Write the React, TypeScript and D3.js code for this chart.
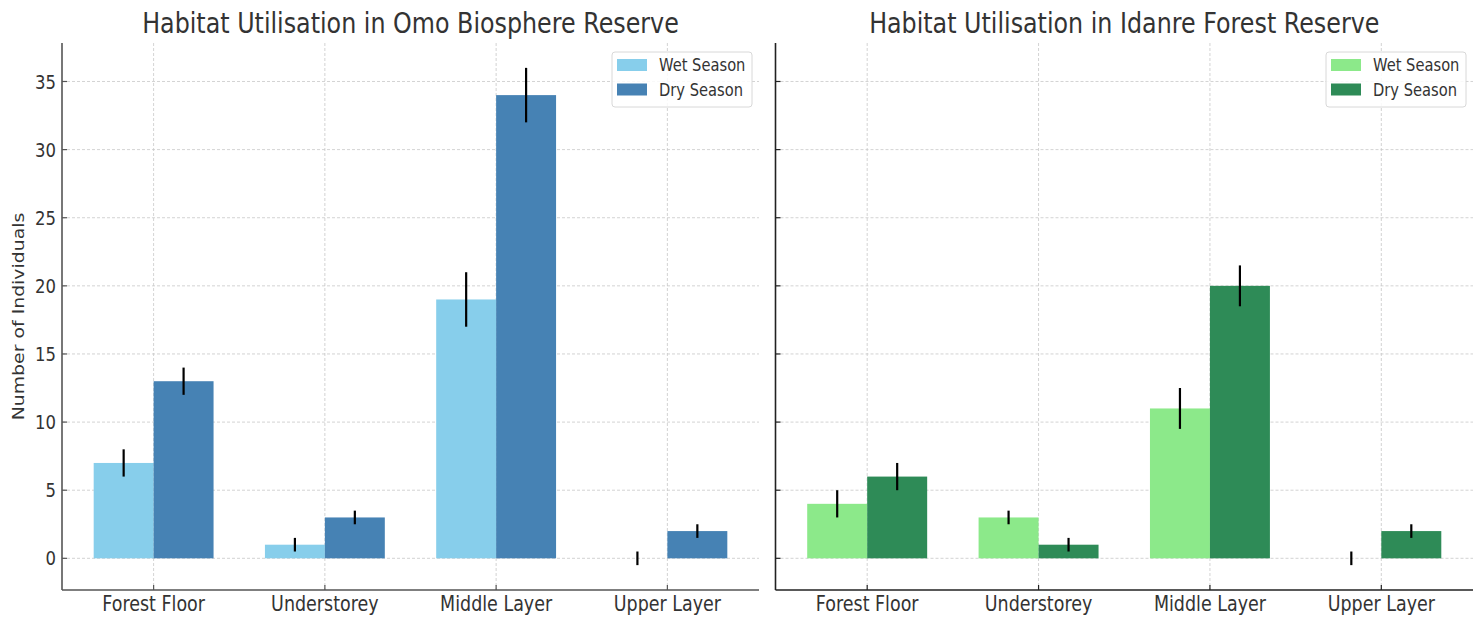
import * as d3 from 'd3';
import React from 'react';

const categories = ['Forest Floor', 'Understorey', 'Middle Layer', 'Upper Layer'];
const yTicks = [0, 5, 10, 15, 20, 25, 30, 35];

const omoWet = [7, 1, 19, 0];
const omoDry = [13, 3, 34, 2];
const omoWetErr = [1, 0.5, 2, 0.5];
const omoDryErr = [1, 0.5, 2, 0.5];

const idanreWet = [4, 3, 11, 0];
const idanreDry = [6, 1, 20, 2];
const idanreWetErr = [1, 0.5, 1.5, 0.5];
const idanreDryErr = [1, 0.5, 1.5, 0.5];

const W = 1483, H = 617;
const top = 43, bottom = 590;
const font = 'DejaVu Sans, sans-serif';
const barW = 0.35;
// the picture's text is a bit taller than wide
const stretch = 1.18;

const y = d3.scaleLinear().domain([-2.325, 37.825]).range([bottom, top]);

function T({ x, y, size, anchor = 'start', dy = '0', children }) {
  return (
    <text transform={`translate(${x},${y}) scale(1,${stretch})`} dy={dy} textAnchor={anchor}
      fontSize={size} fontFamily={font} fill="#333">{children}</text>
  );
}

function Panel({ left, right, title, wet, dry, wetErr, dryErr, colors, showLabels, spineColor }) {
  const x = d3.scaleLinear().domain([-0.535, 3.535]).range([left, right]);
  const series = [
    { name: 'Wet Season', vals: wet, err: wetErr, off: -barW / 2, color: colors[0] },
    { name: 'Dry Season', vals: dry, err: dryErr, off: barW / 2, color: colors[1] },
  ];
  const lx = right - 147;
  const ly = 52;
  return (
    <g>
      {/* grid */}
      {yTicks.map(t => (
        <line key={'gy' + t} x1={left} x2={right} y1={y(t)} y2={y(t)}
          stroke="#c8c8c8" strokeWidth={0.8} strokeDasharray="3,2" />
      ))}
      {categories.map((c, i) => (
        <line key={'gx' + i} x1={x(i)} x2={x(i)} y1={top} y2={bottom}
          stroke="#c8c8c8" strokeWidth={0.8} strokeDasharray="3,2" />
      ))}
      {/* bars */}
      {series.map(s => s.vals.map((v, i) => (
        <rect key={s.name + i} x={x(i + s.off - barW / 2)} width={x(barW) - x(0)}
          y={Math.min(y(v), y(0))} height={Math.abs(y(0) - y(v))} fill={s.color} />
      )))}
      {/* error bars */}
      {series.map(s => s.vals.map((v, i) => (
        <line key={'e' + s.name + i} x1={x(i + s.off)} x2={x(i + s.off)}
          y1={y(v - s.err[i])} y2={y(v + s.err[i])} stroke="#000" strokeWidth={2.2} />
      )))}
      {/* spines */}
      <line x1={left} x2={left} y1={top} y2={bottom} stroke={spineColor} strokeWidth={1.6} />
      <line x1={left} x2={right} y1={bottom} y2={bottom} stroke={spineColor} strokeWidth={1.6} />
      {/* ticks */}
      {yTicks.map(t => (
        <g key={'ty' + t}>
          <line x1={left} x2={left + 5} y1={y(t)} y2={y(t)} stroke={spineColor} strokeWidth={1.2} />
          {showLabels && (
            <T x={left - 6} y={y(t)} dy="0.36em" anchor="end" size={16.5}>{t}</T>
          )}
        </g>
      ))}
      {categories.map((c, i) => (
        <g key={'tx' + i}>
          <line x1={x(i)} x2={x(i)} y1={bottom} y2={bottom - 5} stroke={spineColor} strokeWidth={1.2} />
          <T x={x(i)} y={611} anchor="middle" size={17.5}>{c}</T>
        </g>
      ))}
      <T x={(left + right) / 2} y={33} anchor="middle" size={23.8}>{title}</T>
      {/* legend */}
      <rect x={lx} y={ly} width={140} height={55} rx={3} fill="#fff" fillOpacity={0.85}
        stroke="#d8d8d8" strokeWidth={1} />
      {series.map((s, k) => (
        <g key={'lg' + k}>
          <rect x={lx + 5} y={ly + 7 + k * 24.5} width={30} height={12} fill={s.color} />
          <T x={lx + 47} y={ly + 13 + k * 24.5} dy="0.36em" size={14.7}>{s.name}</T>
        </g>
      ))}
    </g>
  );
}

export default function App() {
  return (
    <svg width={W} height={H} style={{ position: 'absolute', left: 0, top: 0, background: '#fff' }}>
      <rect width={W} height={H} fill="#fff" />
      <Panel left={62} right={759} title="Habitat Utilisation in Omo Biosphere Reserve"
        wet={omoWet} dry={omoDry} wetErr={omoWetErr} dryErr={omoDryErr}
        colors={['#87CEEB', '#4682B4']} showLabels={true} spineColor="#555" />
      <Panel left={775.5} right={1473} title="Habitat Utilisation in Idanre Forest Reserve"
        wet={idanreWet} dry={idanreDry} wetErr={idanreWetErr} dryErr={idanreDryErr}
        colors={['#8CE98A', '#2E8B57']} showLabels={false} spineColor="#222" />
      <text transform={`translate(24,${(top + bottom) / 2}) rotate(-90) scale(${stretch},1)`}
        textAnchor="middle" fontSize={16} fontFamily={font} fill="#333">Number of Individuals</text>
    </svg>
  );
}
